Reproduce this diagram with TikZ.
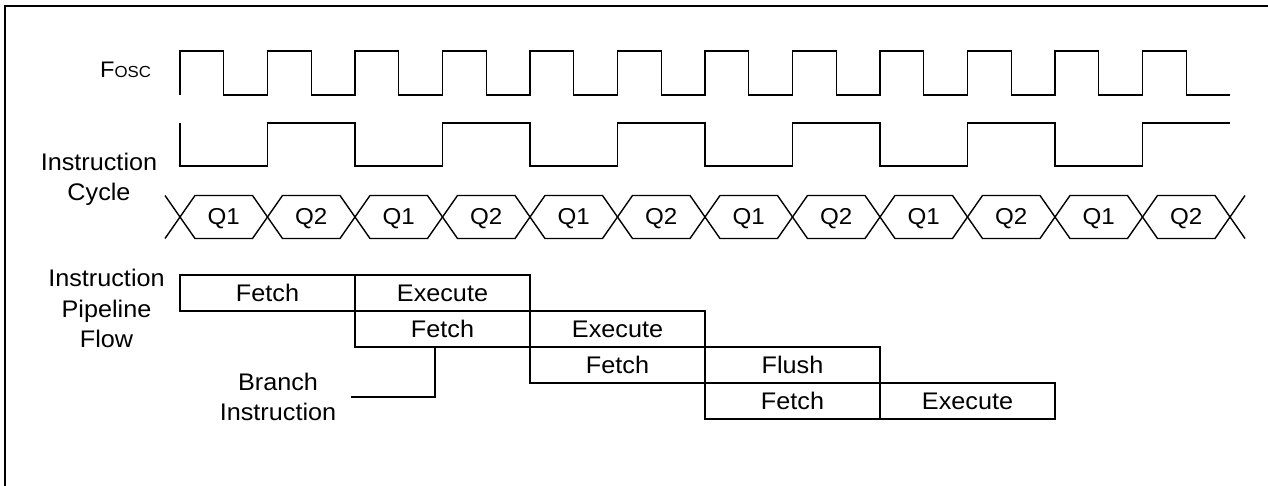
\documentclass[tikz,border=0pt]{standalone}
\usepackage{fontspec}
\setmainfont{Liberation Sans}[FakeStretch=1.05]
\begin{document}
\begin{tikzpicture}[x=1pt,y=-1pt,
  sig/.style={line width=1.4pt},
  lbl/.style={font=\fontsize{24}{30}\selectfont, align=center, inner sep=0pt},
  cell/.style={draw, line width=1.4pt, minimum width=175pt, minimum height=36pt, inner sep=0pt, outer sep=0pt, anchor=north west, font=\fontsize{24}{28}\selectfont},
  qlbl/.style={font=\fontsize{23}{28}\selectfont, inner sep=0pt}]
\useasboundingbox (0,0) rectangle (1268,486);
% frame
\draw[line width=2.3pt] (5,486) -- (5,6) -- (1268,6);
% labels
\node[inner sep=0pt, anchor=base, font=\fontsize{22.5}{24}\selectfont] (fosc) at (125.5,77.7) {F{\fontsize{16}{16}\selectfont OSC}};
\node[lbl] (ic) at (99,179.2) {Instruction\\Cycle};
\node[lbl, font=\fontsize{24}{30.5}\selectfont] (ipf) at (106.5,308.7) {Instruction\\Pipeline\\Flow};
% Fosc clock
\draw[sig] (180,95) foreach \k in {0,...,11} { -- ({180+87.5*\k},51) -- ({223.75+87.5*\k},51) -- ({223.75+87.5*\k},95) -- ({267.5+87.5*\k},95) };
% instruction cycle
\draw[sig] (180,123) foreach \k in {0,...,5} { -- ({180+175*\k},166) -- ({267.5+175*\k},166) -- ({267.5+175*\k},123) -- ({355+175*\k},123) };
% Q states
\foreach \i in {0,...,11} {
  \pgfmathsetmacro\b{180+87.5*\i}
  \pgfmathtruncatemacro\q{mod(\i,2)+1}
  \draw[sig] (\b,217) -- ({\b+15},195.5) -- ({\b+72.5},195.5) -- ({\b+87.5},217) -- ({\b+72.5},238.5) -- ({\b+15},238.5) -- cycle;
  \node[qlbl] (q\i) at ({\b+43.75},218.5) {Q\q};
}
\draw[sig] (165,195.5) -- (180,217) -- (165,238.5);
\draw[sig] (1245,195.5) -- (1230,217) -- (1245,238.5);
% pipeline
\node[cell] (f1) at (180,275) {Fetch};
\node[cell] (e1) at (355,275) {Execute};
\node[cell] (f2) at (355,311) {Fetch};
\node[cell] (e2) at (530,311) {Execute};
\node[cell] (f3) at (530,347) {Fetch};
\node[cell] (fl3) at (705,347) {Flush};
\node[cell] (f4) at (705,383) {Fetch};
\node[cell] (e4) at (880,383) {Execute};
% branch instruction
\node[lbl] (br) at (278,396.7) {Branch\\Instruction};
\coordinate (bt) at (435,347);
\coordinate (brend) at (351,397);
\draw[sig] (bt) |- (brend);
\end{tikzpicture}
\end{document}
